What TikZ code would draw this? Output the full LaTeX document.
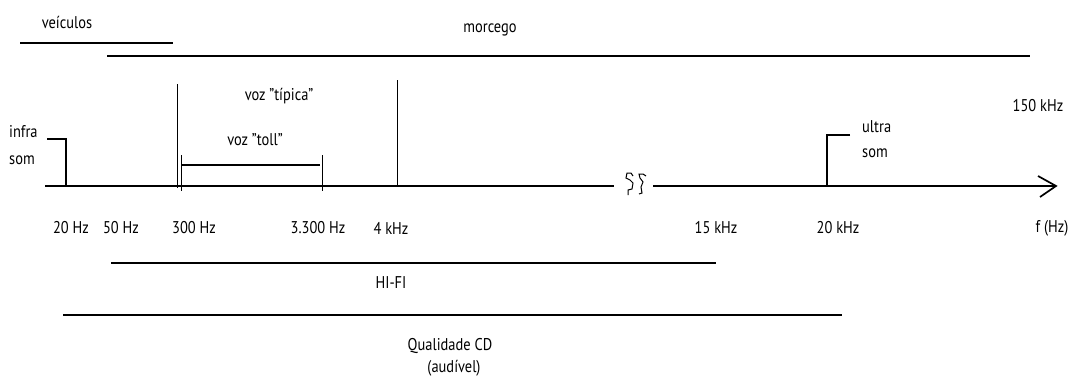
\documentclass[tikz,border=0pt]{standalone}
\usepackage{fontspec}
\setmainfont[FakeStretch=0.85]{PT Sans}
\begin{document}
\begin{tikzpicture}[x=1pt,y=-1pt,
  lbl/.style={inner sep=0pt,font=\fontsize{17}{18}\selectfont},
  span/.style={line width=1.5pt},
  axis/.style={line width=1.7pt},
  thin/.style={line width=1pt}]
\useasboundingbox[fill=white] (0,0) rectangle (1074,380);

% frequency axis with a break
\coordinate (a0) at (45,186);
\coordinate (a1) at (614,186);
\coordinate (a2) at (653,186);
\coordinate (a3) at (1056,186);
\draw[axis] (a0) -- (a1);
\draw[axis] (a2) -- (a3);
\draw[axis] (1038,176) -- (a3) -- (1040,197);
% break mark
\draw[thin] (628,195) -- (628,190) -- (632,189) -- (633,183) -- (630,180) -- (626,178) -- (627,173) -- (631,173) -- (633,176);
\draw[thin] (639,194) -- (642,193) -- (641,187) -- (643,182) -- (640,178) -- (639,174) -- (643,174) -- (646,176);

% infra-som step
\coordinate (i0) at (47,139);
\coordinate (i1) at (66,139);
\coordinate (i2) at (66,186);
\draw[span] (i0) -- (i1) -- (i2);
\node[lbl,anchor=west] (infra) at (9,132) {infra};
\node[lbl,anchor=west] (isom) at (9,160) {som};

% ultra-som step
\coordinate (u0) at (850,135);
\coordinate (u1) at (827,135);
\coordinate (u2) at (827,186);
\draw[span] (u0) -- (u1) -- (u2);
\node[lbl,anchor=west] (ultra) at (862,127) {ultra};
\node[lbl,anchor=west] (usom) at (862,153) {som};

% typical voice band limits
\coordinate (t0) at (177,84);
\coordinate (t1) at (177,188);
\coordinate (t2) at (397,80);
\coordinate (t3) at (397,186);
\draw[thin] (t0) -- (t1);
\draw[thin] (t2) -- (t3);
\node[lbl] (tipica) at (279,96) {voz "típica"};

% toll voice band
\coordinate (v0) at (181,155);
\coordinate (v1) at (181,191);
\coordinate (v2) at (322,155);
\coordinate (v3) at (322,191);
\draw[thin] (v0) -- (v1);
\draw[thin] (v2) -- (v3);
\draw[span] (181,165) -- (320,165);
\node[lbl] (toll) at (255,140) {voz "toll"};

% vehicles and bat ranges
\coordinate (c0) at (20,43);
\coordinate (c1) at (173,43);
\draw[span] (c0) -- (c1);
\node[lbl] (veic) at (67,22) {veículos};
\coordinate (m0) at (107,56);
\coordinate (m1) at (1030,56);
\draw[span] (m0) -- (m1);
\node[lbl] (morc) at (490,30) {morcego};
\node[lbl] (k150) at (1038,106) {150 kHz};

% tick labels
\node[lbl] (f20) at (71,228) {20 Hz};
\node[lbl] (f50) at (121,228) {50 Hz};
\node[lbl] (f300) at (194,228) {300 Hz};
\node[lbl] (f3300) at (318,228) {3.300 Hz};
\node[lbl] (f4k) at (391,228) {4 kHz};
\node[lbl] (f15k) at (716,228) {15 kHz};
\node[lbl] (f20k) at (838,228) {20 kHz};
\node[lbl] (fhz) at (1052,228) {f (Hz)};

% hi-fi and CD ranges
\coordinate (h0) at (111,263);
\coordinate (h1) at (716,263);
\draw[span] (h0) -- (h1);
\node[lbl] (hifi) at (391,283) {HI-FI};
\coordinate (q0) at (63,315);
\coordinate (q1) at (842,315);
\draw[span] (q0) -- (q1);
\node[lbl] (cd) at (450,346) {Qualidade CD};
\node[lbl] (aud) at (454,368) {(audível)};
\end{tikzpicture}
\end{document}
